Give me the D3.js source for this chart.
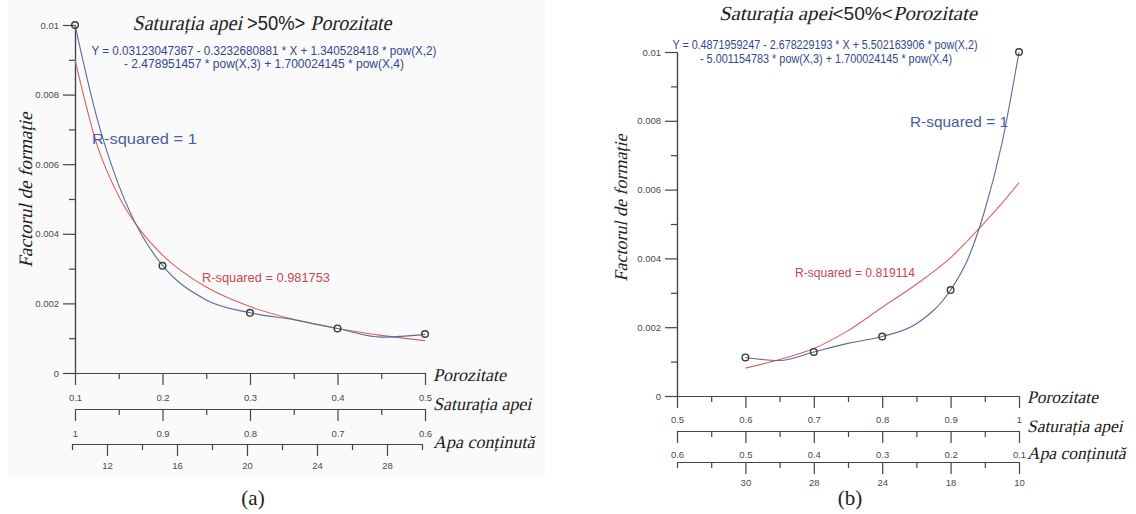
<!DOCTYPE html>
<html>
<head>
<meta charset="utf-8">
<script src="https://cdn.jsdelivr.net/npm/d3@7"></script>
<style>
    body { margin: 0; background: #fff; }
    svg { display: block; }
</style>
</head>
<body>
<svg id="chart" width="1136" height="514"></svg>
<script>
/*
    Factorul de formaţie vs porozitate, două panouri (a) şi (b).
*/

// --- date panou (a) ---
var porozA = [0.1, 0.2, 0.3, 0.4, 0.5];
var factorA = [0.01, 0.00308, 0.00173, 0.00128, 0.00112];
var fitXA = [0.1, 0.125, 0.15, 0.175, 0.2, 0.25, 0.3, 0.35, 0.4, 0.45, 0.5];
var polyA = [0.0100, 0.00734, 0.00540, 0.00402, 0.00309, 0.00210, 0.00173, 0.00153, 0.00128, 0.00103, 0.00111];
var powerA = [0.0090, 0.00657, 0.00508, 0.00409, 0.00339, 0.00247, 0.00191, 0.00154, 0.00128, 0.00108, 0.00093];

// --- date panou (b) ---
var porozB = [0.6, 0.7, 0.8, 0.9, 1.0];
var factorB = [0.00112, 0.00128, 0.00173, 0.00308, 0.01];
var fitXB = [0.6, 0.65, 0.7, 0.75, 0.8, 0.85, 0.9, 0.925, 0.95, 0.975, 1.0];
var polyB = [0.00112, 0.00103, 0.00128, 0.00153, 0.00173, 0.00210, 0.00308, 0.00397, 0.00540, 0.00734, 0.0100];
var powerB = [0.00081, 0.00106, 0.00138, 0.00190, 0.00258, 0.00325, 0.00402, 0.00452, 0.00505, 0.00560, 0.0062];

// --- etichete axe ---
var yTicks = [0, 0.002, 0.004, 0.006, 0.008, 0.01];
var yMinor = [0.001, 0.003, 0.005, 0.007, 0.009];

var porozTicksA = [0.1, 0.2, 0.3, 0.4, 0.5];
var porozMinorA = [0.15, 0.25, 0.35, 0.45];
var saturTicksA = [1, 0.9, 0.8, 0.7, 0.6];
var saturMinorA = [0.95, 0.85, 0.75, 0.65];
var apaTicksA = [12, 16, 20, 24, 28];
var apaMinorA = [10, 14, 18, 22, 26, 30];

var porozTicksB = [0.5, 0.6, 0.7, 0.8, 0.9, 1];
var porozMinorB = [0.55, 0.65, 0.75, 0.85, 0.95];
var saturTicksB = [0.6, 0.5, 0.4, 0.3, 0.2, 0.1];
var saturMinorB = [0.55, 0.45, 0.35, 0.25, 0.15];
var apaLabelsB = ['30', '28', '24', '18', '10'];

var SANS = "'Liberation Sans', Arial, sans-serif";
var SERIF = "'Liberation Serif', 'Times New Roman', serif";
var AXIS_COLOR = '#454545';
var BLUE_TXT = '#34468f';
var BLUE_LINE = '#5a6a9c';
var RED_TXT = '#cc4450';
var RED_LINE = '#dc6068';
var SKEW = -13;   // italic "fals" — fontul serif italic lipseşte

var svg = d3.select('#chart');

// fundal discret al panoului (a)
svg.append('rect')
    .attr('x', 8).attr('y', 0)
    .attr('width', 537).attr('height', 477)
    .attr('fill', '#fafafa');

function styleAxis(sel, fontSize) {
    sel.select('.domain').attr('stroke', AXIS_COLOR).attr('stroke-width', 1.2);
    sel.selectAll('.tick line').attr('stroke', AXIS_COLOR).attr('stroke-width', 1.2);
    sel.selectAll('.tick text')
        .attr('fill', '#4a4a4a')
        .attr('font-family', SANS)
        .attr('font-size', fontSize || 9.5);
    sel.attr('font-family', null).attr('font-size', null);
}

function fmt(d) { return String(+d.toFixed(3)); }

// un rând de axă orizontală: minor + major
function xRow(g, scale, yPos, major, minor, pad, labels) {
    g.append('g')
        .attr('transform', 'translate(0,' + yPos + ')')
        .call(d3.axisBottom(scale).tickValues(minor).tickSize(6).tickSizeOuter(0).tickFormat(''))
        .call(styleAxis);
    g.append('g')
        .attr('transform', 'translate(0,' + yPos + ')')
        .call(d3.axisBottom(scale).tickValues(major).tickSize(12).tickSizeOuter(0).tickPadding(pad)
            .tickFormat(function(d, i) { return labels ? labels[i] : fmt(d); }))
        .call(styleAxis);
}

function addText(g, t) {
    var tr = 'translate(' + t.x + ',' + t.y + ')';
    if (t.rotate) tr += ' rotate(-90)';
    if (t.italic) tr += ' skewX(' + SKEW + ')';
    var el = g.append('g').attr('transform', tr)
        .append('text')
        .attr('text-anchor', t.anchor || 'start')
        .attr('font-family', t.family || SANS)
        .attr('font-size', t.size)
        .attr('font-weight', t.weight || null)
        .attr('fill', t.fill || '#222')
        .text(t.text);
    if (t.len) el.attr('textLength', t.len).attr('lengthAdjust', 'spacingAndGlyphs');
    return el;
}

// titlu: bucăţi serif italic + "50%" drept, fără sans
function addTitle(g, t) {
    var outer = g.append('g');
    var inner = outer.append('g');
    var cursor = 0;
    t.parts.forEach(function(part, i) {
        var upright = (i === 1);
        var holder = inner.append('g')
            .attr('transform', 'translate(' + cursor + ',0)' + (upright ? '' : ' skewX(' + SKEW + ')'));
        var el = holder.append('text')
            .attr('font-family', upright ? SANS : SERIF)
            .attr('font-size', upright ? t.size * 0.92 : t.size)
            .attr('fill', '#222')
            .attr('xml:space', 'preserve')
            .style('white-space', 'pre')
            .text(part);
        cursor += el.node().getComputedTextLength();
    });
    var k = t.len / cursor;
    outer.attr('transform', 'translate(' + (t.x - t.len / 2) + ',' + t.y + ') scale(' + k + ',1)');
}

function panel(p) {
    var g = svg.append('g');

    var x = d3.scaleLinear().domain(p.xDomain).range([p.left, p.right]);
    var y = d3.scaleLinear().domain([0, 0.01]).range([p.bottom, p.top]);
    var sat = d3.scaleLinear().domain(p.satDomain).range([p.left, p.right]);

    // axa Y
    g.append('g')
        .attr('transform', 'translate(' + p.left + ',0)')
        .call(d3.axisLeft(y).tickValues(yMinor).tickSize(6).tickSizeOuter(0).tickFormat(''))
        .call(styleAxis);
    g.append('g')
        .attr('transform', 'translate(' + p.left + ',0)')
        .call(d3.axisLeft(y).tickValues(yTicks).tickSize(12).tickSizeOuter(0).tickPadding(4).tickFormat(fmt))
        .call(styleAxis);

    // trei rânduri de axe sub grafic
    xRow(g, x, p.bottom, p.porozTicks, p.porozMinor, p.pads[0]);
    xRow(g, sat, p.rows[0], p.saturTicks, p.saturMinor, p.pads[1]);
    if (p.apaScale) {
        xRow(g, p.apaScale, p.rows[1], p.apaTicks, p.apaMinor, p.pads[2]);
    } else {
        xRow(g, x, p.rows[1], p.fitPoints, p.porozMinor.concat([p.xDomain[0]]), p.pads[2], p.apaLabels);
    }

    // curbe
    var line = d3.line()
        .x(function(d) { return x(d[0]); })
        .y(function(d) { return y(d[1]); })
        .curve(d3.curveMonotoneX);

    g.append('path')
        .datum(d3.zip(p.fitX, p.power))
        .attr('d', line)
        .attr('fill', 'none')
        .attr('stroke', RED_LINE)
        .attr('stroke-width', 1.1);

    g.append('path')
        .datum(d3.zip(p.fitX, p.poly))
        .attr('d', line)
        .attr('fill', 'none')
        .attr('stroke', BLUE_LINE)
        .attr('stroke-width', 1.1);

    g.selectAll('circle.pt')
        .data(d3.zip(p.px, p.py))
        .enter().append('circle')
        .attr('class', 'pt')
        .attr('cx', function(d) { return x(d[0]); })
        .attr('cy', function(d) { return y(d[1]); })
        .attr('r', 3.3)
        .attr('fill', 'none')
        .attr('stroke', '#3a3a3a')
        .attr('stroke-width', 1.4);

    addTitle(g, p.title);
    p.texts.forEach(function(t) { addText(g, t); });
}

panel({
    left: 75, right: 425, top: 25, bottom: 373,
    xDomain: [0.1, 0.5], satDomain: [1, 0.6],
    rows: [409, 444], pads: [9, 9, 6],
    porozTicks: porozTicksA, porozMinor: porozMinorA,
    saturTicks: saturTicksA, saturMinor: saturMinorA,
    apaScale: d3.scaleLinear().domain([10, 30]).range([72, 422]),
    apaTicks: apaTicksA, apaMinor: apaMinorA,
    px: porozA, py: factorA,
    fitX: fitXA, poly: polyA, power: powerA,
    title: { x: 262, y: 30, size: 21, len: 259, parts: ['Saturația apei ', '>50%>', ' Porozitate'] },
    texts: [
        { x: 264, y: 55, size: 12.5, anchor: 'middle', fill: BLUE_TXT, len: 345,
          text: 'Y = 0.03123047367 - 0.3232680881 * X + 1.340528418 * pow(X,2)' },
        { x: 264, y: 68, size: 12.5, anchor: 'middle', fill: BLUE_TXT, len: 280,
          text: '- 2.478951457 * pow(X,3) + 1.700024145 * pow(X,4)' },
        { x: 92, y: 144, size: 15, fill: '#4c5c9c', len: 105, text: 'R-squared = 1' },
        { x: 202, y: 282, size: 13, fill: RED_TXT, len: 128, text: 'R-squared = 0.981753' },
        { x: 32, y: 190, size: 19, anchor: 'middle', family: SERIF, italic: true, rotate: true,
          text: 'Factorul de formație' },
        { x: 433, y: 381, size: 18, family: SERIF, italic: true, text: 'Porozitate' },
        { x: 433, y: 410, size: 18, family: SERIF, italic: true, text: 'Saturația apei' },
        { x: 433, y: 448, size: 18, family: SERIF, italic: true, text: 'Apa conținută' },
        { x: 253, y: 505, size: 21, anchor: 'middle', family: SERIF, text: '(a)' }
    ]
});

panel({
    left: 677, right: 1019, top: 52, bottom: 396,
    xDomain: [0.5, 1], satDomain: [0.6, 0.1],
    rows: [431, 462], pads: [8, 8, 5],
    porozTicks: porozTicksB, porozMinor: porozMinorB,
    saturTicks: saturTicksB, saturMinor: saturMinorB,
    apaScale: null, apaLabels: apaLabelsB, fitPoints: porozB,
    px: porozB, py: factorB,
    fitX: fitXB, poly: polyB, power: powerB,
    title: { x: 848, y: 20, size: 20, len: 258, parts: ['Saturația apei', '<50%<', 'Porozitate'] },
    texts: [
        { x: 825, y: 49, size: 12, anchor: 'middle', fill: BLUE_TXT, len: 305,
          text: 'Y = 0.4871959247 - 2.678229193 * X + 5.502163906 * pow(X,2)' },
        { x: 826, y: 63, size: 12, anchor: 'middle', fill: BLUE_TXT, len: 252,
          text: '- 5.001154783 * pow(X,3) + 1.700024145 * pow(X,4)' },
        { x: 910, y: 127, size: 15, fill: '#4c5c9c', len: 98, text: 'R-squared = 1' },
        { x: 795, y: 277, size: 13, fill: RED_TXT, len: 120, text: 'R-squared = 0.819114' },
        { x: 627, y: 208, size: 18, anchor: 'middle', family: SERIF, italic: true, rotate: true,
          text: 'Factorul de formație' },
        { x: 1027, y: 403, size: 17.5, family: SERIF, italic: true, text: 'Porozitate' },
        { x: 1027, y: 432, size: 17.5, family: SERIF, italic: true, text: 'Saturația apei' },
        { x: 1027, y: 459, size: 17.5, family: SERIF, italic: true, text: 'Apa conținută' },
        { x: 850, y: 505, size: 21, anchor: 'middle', family: SERIF, text: '(b)' }
    ]
});
</script>
</body>
</html>
